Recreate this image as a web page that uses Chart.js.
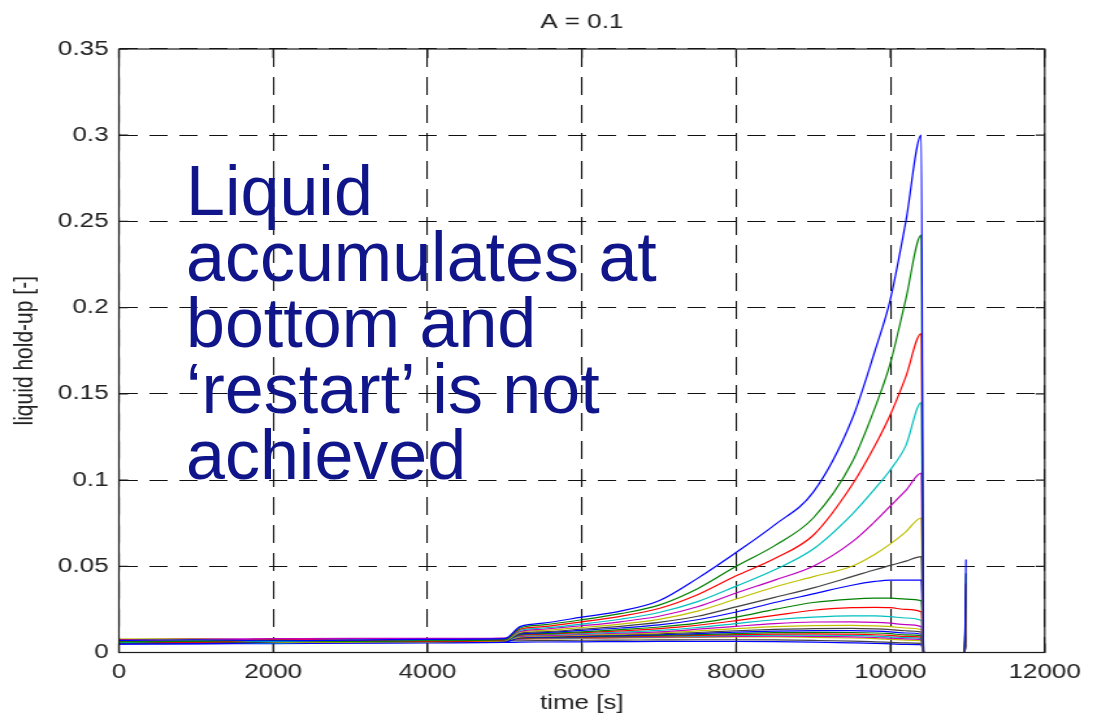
<!DOCTYPE html>
<html>
<head>
<meta charset="utf-8">
<title>Liquid hold-up, A = 0.1</title>
<script src="https://cdn.jsdelivr.net/npm/chart.js@4.4.1/dist/chart.umd.min.js"></script>
<style>
  html, body { margin: 0; padding: 0; background: #fff; overflow: hidden; }
  #stage { position: relative; width: 1093px; height: 718px; }
  /* the axes are drawn narrow and stretched sideways, like the exported figure */
  #plot { position: absolute; left: 0; top: 0; width: 841px; height: 718px;
          transform: scaleX(1.2997); transform-origin: 0 0; }
  #note { position: absolute; left: 186px; top: 158px; white-space: nowrap;
          font-family: 'Liberation Sans', Arial, sans-serif; font-size: 70px;
          line-height: 66px; color: #10168a; }
</style>
</head>
<body>
<div id="stage">
  <div id="plot"><canvas id="holdup" width="841" height="718"></canvas></div>
  <div id="note">Liquid<br>accumulates at<br>bottom and<br>‘restart’ is not<br>achieved</div>
</div>
<script>
// sample times [s]
const times = [0, 1000, 2000, 3000, 4000, 5000, 5200, 5500, 6000, 6500, 7000, 7500, 8000,
               8500, 9000, 9500, 9800, 10000, 10200, 10400, 10430, 10960, 10980];

// liquid hold-up per pipe segment [-]
const seg01 = [0.0070, 0.0074, 0.0068, 0.0072, 0.0076, 0.0080, 0.0150, 0.0170, 0.0205, 0.0240, 0.0300, 0.0430, 0.0580, 0.0740, 0.0930, 0.1350, 0.1750, 0.2050, 0.2500, 0.3000, 0, 0, 0.054];
const seg02 = [0.0062, 0.0066, 0.0070, 0.0065, 0.0068, 0.0074, 0.0142, 0.0160, 0.0190, 0.0225, 0.0275, 0.0370, 0.0500, 0.0620, 0.0780, 0.1100, 0.1420, 0.1680, 0.2050, 0.2420, 0, 0, 0.046];
const seg03 = [0.0066, 0.0060, 0.0072, 0.0070, 0.0064, 0.0072, 0.0135, 0.0150, 0.0178, 0.0210, 0.0255, 0.0335, 0.0445, 0.0545, 0.0680, 0.0970, 0.1200, 0.1380, 0.1600, 0.1850, 0, 0, 0.040];
const seg04 = [0.0058, 0.0068, 0.0064, 0.0074, 0.0070, 0.0070, 0.0128, 0.0142, 0.0165, 0.0193, 0.0232, 0.0295, 0.0385, 0.0480, 0.0600, 0.0800, 0.0950, 0.1060, 0.1200, 0.1450, 0, 0, 0.036];
const seg05 = [0.0064, 0.0072, 0.0076, 0.0078, 0.0080, 0.0082, 0.0122, 0.0135, 0.0155, 0.0178, 0.0210, 0.0265, 0.0345, 0.0420, 0.0500, 0.0640, 0.0760, 0.0850, 0.0940, 0.1040, 0, 0, 0.032];
const seg06 = [0.0068, 0.0076, 0.0062, 0.0060, 0.0062, 0.0068, 0.0118, 0.0128, 0.0145, 0.0165, 0.0192, 0.0240, 0.0310, 0.0380, 0.0440, 0.0500, 0.0570, 0.0630, 0.0700, 0.0780, 0, 0, 0.029];
const seg07 = [0.0056, 0.0058, 0.0060, 0.0062, 0.0066, 0.0066, 0.0112, 0.0120, 0.0135, 0.0152, 0.0175, 0.0210, 0.0265, 0.0320, 0.0375, 0.0440, 0.0480, 0.0505, 0.0530, 0.0556, 0, 0, 0.026];
const seg08 = [0.0052, 0.0056, 0.0058, 0.0058, 0.0060, 0.0064, 0.0108, 0.0115, 0.0128, 0.0142, 0.0160, 0.0190, 0.0235, 0.0290, 0.0340, 0.0390, 0.0412, 0.0420, 0.0420, 0.0420, 0, 0, 0.023];
const seg09 = [0.0060, 0.0064, 0.0066, 0.0068, 0.0072, 0.0076, 0.0104, 0.0110, 0.0120, 0.0133, 0.0148, 0.0170, 0.0205, 0.0250, 0.0290, 0.0310, 0.0315, 0.0315, 0.0310, 0.0300, 0, 0, 0.021];
const seg10 = [0.0072, 0.0068, 0.0074, 0.0066, 0.0074, 0.0078, 0.0100, 0.0106, 0.0115, 0.0125, 0.0138, 0.0158, 0.0185, 0.0215, 0.0245, 0.0260, 0.0262, 0.0260, 0.0250, 0.0235, 0, 0, 0.019];
const seg11 = [0.0054, 0.0062, 0.0056, 0.0064, 0.0068, 0.0072, 0.0097, 0.0102, 0.0110, 0.0118, 0.0128, 0.0145, 0.0168, 0.0190, 0.0205, 0.0212, 0.0212, 0.0208, 0.0200, 0.0185, 0, 0, 0.017];
const seg12 = [0.0074, 0.0078, 0.0080, 0.0082, 0.0082, 0.0084, 0.0094, 0.0098, 0.0105, 0.0112, 0.0120, 0.0135, 0.0152, 0.0168, 0.0177, 0.0178, 0.0175, 0.0170, 0.0162, 0.0150, 0, 0, 0.015];
const seg13 = [0.0076, 0.0070, 0.0066, 0.0064, 0.0066, 0.0070, 0.0091, 0.0095, 0.0101, 0.0107, 0.0114, 0.0125, 0.0138, 0.0150, 0.0156, 0.0157, 0.0154, 0.0150, 0.0142, 0.0132, 0, 0, 0.014];
const seg14 = [0.0064, 0.0060, 0.0064, 0.0068, 0.0070, 0.0072, 0.0088, 0.0092, 0.0097, 0.0102, 0.0108, 0.0116, 0.0126, 0.0134, 0.0139, 0.0140, 0.0137, 0.0133, 0.0126, 0.0118, 0, 0, 0.013];
const seg15 = [0.0050, 0.0052, 0.0054, 0.0056, 0.0058, 0.0060, 0.0086, 0.0089, 0.0094, 0.0098, 0.0103, 0.0110, 0.0118, 0.0124, 0.0127, 0.0127, 0.0124, 0.0120, 0.0113, 0.0106, 0, 0, 0.012];
const seg16 = [0.0068, 0.0072, 0.0068, 0.0070, 0.0072, 0.0074, 0.0084, 0.0087, 0.0091, 0.0095, 0.0099, 0.0104, 0.0110, 0.0115, 0.0117, 0.0116, 0.0113, 0.0109, 0.0102, 0.0096, 0, 0, 0.011];
const seg17 = [0.0058, 0.0064, 0.0078, 0.0076, 0.0074, 0.0076, 0.0082, 0.0085, 0.0088, 0.0091, 0.0095, 0.0099, 0.0104, 0.0107, 0.0108, 0.0106, 0.0103, 0.0099, 0.0093, 0.0088, 0, 0, 0.010];
const seg18 = [0.0070, 0.0066, 0.0062, 0.0072, 0.0076, 0.0078, 0.0080, 0.0083, 0.0086, 0.0089, 0.0092, 0.0095, 0.0099, 0.0101, 0.0101, 0.0099, 0.0095, 0.0091, 0.0086, 0.0080, 0, 0, 0.009];
const seg19 = [0.0060, 0.0058, 0.0062, 0.0066, 0.0078, 0.0080, 0.0078, 0.0081, 0.0084, 0.0086, 0.0089, 0.0091, 0.0094, 0.0095, 0.0094, 0.0091, 0.0087, 0.0083, 0.0079, 0.0074, 0, 0, 0.008];
const seg20 = [0.0078, 0.0080, 0.0070, 0.0068, 0.0070, 0.0072, 0.0077, 0.0079, 0.0082, 0.0084, 0.0086, 0.0088, 0.0090, 0.0090, 0.0088, 0.0084, 0.0080, 0.0076, 0.0072, 0.0068, 0, 0, 0.007];
const seg21 = [0.0062, 0.0066, 0.0072, 0.0074, 0.0070, 0.0070, 0.0068, 0.0069, 0.0071, 0.0072, 0.0073, 0.0074, 0.0074, 0.0073, 0.0070, 0.0066, 0.0062, 0.0059, 0.0056, 0.0053, 0, 0, 0.006];
const seg22 = [0.0048, 0.0050, 0.0052, 0.0054, 0.0056, 0.0058, 0.0060, 0.0061, 0.0062, 0.0063, 0.0064, 0.0064, 0.0064, 0.0063, 0.0060, 0.0056, 0.0053, 0.0050, 0.0047, 0.0045, 0, 0, 0.005];

const segments = [seg01, seg02, seg03, seg04, seg05, seg06, seg07, seg08, seg09, seg10, seg11,
                  seg12, seg13, seg14, seg15, seg16, seg17, seg18, seg19, seg20, seg21, seg22];

// default plot colour order, cycled
const lineColors = ['#0000ff', '#008000', '#ff0000', '#00bfbf', '#bf00bf', '#bfbf00', '#404040'];

const xTicks = [0, 2000, 4000, 6000, 8000, 10000, 12000];
const xTickLabels = ['0', '2000', '4000', '6000', '8000', '10000', '12000'];
const yTicks = [0, 0.05, 0.1, 0.15, 0.2, 0.25, 0.3, 0.35];
const yTickLabels = ['0', '0.05', '0.1', '0.15', '0.2', '0.25', '0.3', '0.35'];

const family = "'Liberation Sans', Arial, sans-serif";
const textColor = '#222';

const datasets = segments.map((seg, i) => ({
    data: times.map((t, k) => ({ x: t, y: seg[k] })),
    borderColor: lineColors[i % lineColors.length],
    borderWidth: 1.2,
    pointRadius: 0,
    cubicInterpolationMode: 'monotone',
    fill: false
}));

// box round the axes with inward tick marks on all four sides
const axesBox = {
    id: 'axesBox',
    afterDraw(chart) {
        const { ctx, chartArea: a, scales: { x, y } } = chart;
        ctx.save();
        ctx.strokeStyle = '#1a1a1a';
        ctx.lineWidth = 1.2;
        ctx.setLineDash([]);
        ctx.strokeRect(a.left, a.top, a.right - a.left, a.bottom - a.top);
        ctx.beginPath();
        xTicks.forEach(v => {
            const px = x.getPixelForValue(v);
            ctx.moveTo(px, a.bottom); ctx.lineTo(px, a.bottom - 9);
            ctx.moveTo(px, a.top); ctx.lineTo(px, a.top + 9);
        });
        yTicks.forEach(v => {
            const py = y.getPixelForValue(v);
            ctx.moveTo(a.left, py); ctx.lineTo(a.left + 7, py);
            ctx.moveTo(a.right, py); ctx.lineTo(a.right - 7, py);
        });
        ctx.stroke();
        ctx.restore();
    }
};

new Chart(document.getElementById('holdup'), {
    type: 'line',
    data: { datasets },
    plugins: [axesBox],
    options: {
        responsive: false,
        devicePixelRatio: 1,
        animation: false,
        layout: { padding: { left: 0, right: 37.2, top: 0, bottom: 0 } },
        plugins: {
            legend: { display: false },
            tooltip: { enabled: false },
            title: {
                display: true,
                text: 'A = 0.1',
                fullSize: false,
                color: textColor,
                font: { family, size: 20, weight: 'normal' },
                padding: { top: 10, bottom: 15 }
            }
        },
        scales: {
            x: {
                type: 'linear',
                min: 0,
                max: 12000,
                afterBuildTicks: s => { s.ticks = xTicks.map(v => ({ value: v })); },
                afterFit: s => { s.height = 65.5; },
                ticks: {
                    padding: 8,
                    color: textColor,
                    maxRotation: 0,
                    autoSkip: false,
                    font: { family, size: 20 },
                    callback: (v, i) => xTickLabels[i]
                },
                grid: { color: '#111', lineWidth: 1.1, drawTicks: false },
                border: { display: true, color: '#1a1a1a', dash: [18, 10] },
                title: {
                    display: true,
                    text: 'time [s]',
                    color: textColor,
                    font: { family, size: 20 },
                    padding: { top: 0, bottom: 3 }
                }
            },
            y: {
                type: 'linear',
                min: 0,
                max: 0.35,
                afterBuildTicks: s => { s.ticks = yTicks.map(v => ({ value: v })); },
                afterFit: s => { s.width = 91.5; },
                ticks: {
                    padding: 8,
                    color: textColor,
                    autoSkip: false,
                    font: { family, size: 20 },
                    callback: (v, i) => yTickLabels[i]
                },
                grid: { color: '#111', lineWidth: 1.1, drawTicks: false },
                border: { display: true, color: '#1a1a1a', dash: [14, 9] },
                title: {
                    display: true,
                    text: 'liquid hold-up [-]',
                    color: textColor,
                    font: { family, size: 21 },
                    padding: { top: 6.6, bottom: 0 }
                }
            }
        }
    }
});
</script>
</body>
</html>
